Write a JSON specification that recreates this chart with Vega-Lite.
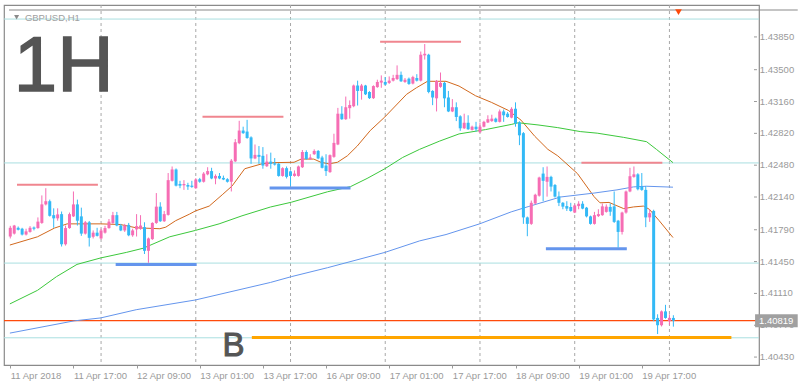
{
"$schema":"https://vega.github.io/schema/vega-lite/v6.json",
"width":755,"height":360,
"autosize":{"type":"none"},
"padding":{"left":4,"top":5,"right":44,"bottom":20},
"background":"white",
"config":{"view":{"stroke":"#8a8a8a","strokeWidth":1.2},
"axis":{"labelFont":"Liberation Sans","labelFontSize":9.5,"labelColor":"#9a9a9a","tickColor":"#9a9a9a","tickSize":3,"domain":false,"grid":false,"labelOverlap":false,"labelFlush":false}},
"datasets":{
"candles":[
{"i":0,"o":1.41718,"h":1.41832,"l":1.41697,"c":1.41811},
{"i":1,"o":1.41749,"h":1.41842,"l":1.41739,"c":1.41835},
{"i":2,"o":1.41811,"h":1.41825,"l":1.41783,"c":1.4179},
{"i":3,"o":1.41801,"h":1.41811,"l":1.41729,"c":1.41739},
{"i":4,"o":1.41739,"h":1.41801,"l":1.41729,"c":1.41773},
{"i":5,"o":1.41767,"h":1.41829,"l":1.41759,"c":1.41811},
{"i":6,"o":1.41814,"h":1.41825,"l":1.41783,"c":1.41801},
{"i":7,"o":1.41808,"h":1.41922,"l":1.41801,"c":1.41877},
{"i":8,"o":1.41863,"h":1.42157,"l":1.41853,"c":1.42061},
{"i":9,"o":1.42061,"h":1.42234,"l":1.4205,"c":1.42095},
{"i":10,"o":1.42095,"h":1.42112,"l":1.41931,"c":1.41939},
{"i":11,"o":1.41946,"h":1.42019,"l":1.41811,"c":1.41912},
{"i":12,"o":1.41912,"h":1.42019,"l":1.41887,"c":1.41954},
{"i":13,"o":1.41957,"h":1.41985,"l":1.41611,"c":1.41635},
{"i":14,"o":1.41635,"h":1.41835,"l":1.41621,"c":1.41808},
{"i":15,"o":1.41808,"h":1.41974,"l":1.41801,"c":1.41957},
{"i":16,"o":1.41933,"h":1.42199,"l":1.41926,"c":1.42061},
{"i":17,"o":1.42061,"h":1.42112,"l":1.41835,"c":1.41887},
{"i":18,"o":1.41933,"h":1.42026,"l":1.41725,"c":1.41749},
{"i":19,"o":1.41749,"h":1.41884,"l":1.41739,"c":1.4187},
{"i":20,"o":1.4187,"h":1.41884,"l":1.41611,"c":1.41704},
{"i":21,"o":1.41715,"h":1.41783,"l":1.41697,"c":1.41759},
{"i":22,"o":1.41759,"h":1.41811,"l":1.41718,"c":1.41725},
{"i":23,"o":1.41697,"h":1.41801,"l":1.41687,"c":1.41783},
{"i":24,"o":1.41759,"h":1.41832,"l":1.41749,"c":1.41808},
{"i":25,"o":1.41808,"h":1.41905,"l":1.41801,"c":1.41877},
{"i":26,"o":1.41863,"h":1.41981,"l":1.41853,"c":1.41946},
{"i":27,"o":1.41946,"h":1.41981,"l":1.41827,"c":1.41835},
{"i":28,"o":1.41835,"h":1.41853,"l":1.41775,"c":1.41783},
{"i":29,"o":1.41783,"h":1.41853,"l":1.41767,"c":1.41835},
{"i":30,"o":1.41842,"h":1.41863,"l":1.41721,"c":1.41731},
{"i":31,"o":1.41731,"h":1.41801,"l":1.41715,"c":1.41783},
{"i":32,"o":1.41794,"h":1.41957,"l":1.41718,"c":1.41829},
{"i":33,"o":1.41801,"h":1.41946,"l":1.4179,"c":1.41835},
{"i":34,"o":1.41818,"h":1.4187,"l":1.41531,"c":1.41565},
{"i":35,"o":1.41565,"h":1.41707,"l":1.41437,"c":1.41697},
{"i":36,"o":1.4169,"h":1.4187,"l":1.41682,"c":1.41863},
{"i":37,"o":1.41863,"h":1.42182,"l":1.41853,"c":1.42037},
{"i":38,"o":1.42037,"h":1.42084,"l":1.41874,"c":1.41881},
{"i":39,"o":1.41881,"h":1.41991,"l":1.41874,"c":1.41957},
{"i":40,"o":1.41949,"h":1.42396,"l":1.41941,"c":1.4232},
{"i":41,"o":1.42313,"h":1.42466,"l":1.42305,"c":1.42434},
{"i":42,"o":1.42434,"h":1.42445,"l":1.42253,"c":1.42261},
{"i":43,"o":1.42279,"h":1.42313,"l":1.42234,"c":1.42261},
{"i":44,"o":1.42265,"h":1.4232,"l":1.42216,"c":1.42279},
{"i":45,"o":1.42268,"h":1.42292,"l":1.42216,"c":1.42251},
{"i":46,"o":1.42261,"h":1.42313,"l":1.42238,"c":1.42248},
{"i":47,"o":1.42234,"h":1.42341,"l":1.42227,"c":1.42327},
{"i":48,"o":1.4233,"h":1.42344,"l":1.42292,"c":1.42303},
{"i":49,"o":1.42303,"h":1.42406,"l":1.42294,"c":1.4239},
{"i":50,"o":1.42382,"h":1.42458,"l":1.42372,"c":1.42417},
{"i":51,"o":1.42417,"h":1.42452,"l":1.4233,"c":1.42338},
{"i":52,"o":1.42338,"h":1.42382,"l":1.42276,"c":1.42365},
{"i":53,"o":1.42365,"h":1.42396,"l":1.4233,"c":1.42338},
{"i":54,"o":1.42344,"h":1.42369,"l":1.4232,"c":1.42327},
{"i":55,"o":1.4233,"h":1.42341,"l":1.42294,"c":1.42303},
{"i":56,"o":1.42303,"h":1.42545,"l":1.42199,"c":1.42528},
{"i":57,"o":1.42521,"h":1.42759,"l":1.42513,"c":1.42725},
{"i":58,"o":1.42715,"h":1.42954,"l":1.42704,"c":1.4285},
{"i":59,"o":1.4285,"h":1.42891,"l":1.42814,"c":1.42822},
{"i":60,"o":1.42839,"h":1.42964,"l":1.42762,"c":1.4277},
{"i":61,"o":1.42777,"h":1.42788,"l":1.42494,"c":1.42552},
{"i":62,"o":1.42552,"h":1.42701,"l":1.42544,"c":1.4259},
{"i":63,"o":1.4259,"h":1.42684,"l":1.42494,"c":1.42569},
{"i":64,"o":1.4258,"h":1.42673,"l":1.42442,"c":1.42476},
{"i":65,"o":1.42469,"h":1.42597,"l":1.4246,"c":1.42518},
{"i":66,"o":1.42518,"h":1.42614,"l":1.42442,"c":1.42494},
{"i":67,"o":1.425,"h":1.42556,"l":1.42476,"c":1.42486},
{"i":68,"o":1.42494,"h":1.42502,"l":1.42357,"c":1.42365},
{"i":69,"o":1.42365,"h":1.42458,"l":1.42357,"c":1.42448},
{"i":70,"o":1.42448,"h":1.42466,"l":1.42338,"c":1.42355},
{"i":71,"o":1.42414,"h":1.42424,"l":1.42258,"c":1.42365},
{"i":72,"o":1.42365,"h":1.42424,"l":1.42357,"c":1.4239},
{"i":73,"o":1.42365,"h":1.42476,"l":1.42357,"c":1.42466},
{"i":74,"o":1.42458,"h":1.42642,"l":1.4245,"c":1.42621},
{"i":75,"o":1.42621,"h":1.42639,"l":1.42538,"c":1.42545},
{"i":76,"o":1.42545,"h":1.42597,"l":1.42538,"c":1.42562},
{"i":77,"o":1.42597,"h":1.42649,"l":1.4259,"c":1.42632},
{"i":78,"o":1.42632,"h":1.42642,"l":1.42544,"c":1.42552},
{"i":79,"o":1.42562,"h":1.4258,"l":1.42445,"c":1.42452},
{"i":80,"o":1.42476,"h":1.42597,"l":1.42365,"c":1.42417},
{"i":81,"o":1.42406,"h":1.42595,"l":1.42398,"c":1.42587},
{"i":82,"o":1.42569,"h":1.42816,"l":1.42559,"c":1.42718},
{"i":83,"o":1.42701,"h":1.43092,"l":1.42694,"c":1.4303},
{"i":84,"o":1.4303,"h":1.4311,"l":1.42964,"c":1.42971},
{"i":85,"o":1.42971,"h":1.43213,"l":1.42964,"c":1.43099},
{"i":86,"o":1.43089,"h":1.43172,"l":1.42977,"c":1.43123},
{"i":87,"o":1.4311,"h":1.43341,"l":1.43099,"c":1.43331},
{"i":88,"o":1.43331,"h":1.43383,"l":1.43117,"c":1.43273},
{"i":89,"o":1.43273,"h":1.43348,"l":1.4318,"c":1.43331},
{"i":90,"o":1.43331,"h":1.43338,"l":1.43229,"c":1.43237},
{"i":91,"o":1.43262,"h":1.43271,"l":1.43187,"c":1.43196},
{"i":92,"o":1.43196,"h":1.43333,"l":1.43187,"c":1.43325},
{"i":93,"o":1.43314,"h":1.43393,"l":1.43307,"c":1.43369},
{"i":94,"o":1.43362,"h":1.43439,"l":1.43307,"c":1.43383},
{"i":95,"o":1.43369,"h":1.43421,"l":1.43333,"c":1.43341},
{"i":96,"o":1.43359,"h":1.43428,"l":1.43348,"c":1.43383},
{"i":97,"o":1.43383,"h":1.43445,"l":1.43374,"c":1.43411},
{"i":98,"o":1.434,"h":1.43546,"l":1.4339,"c":1.43445},
{"i":99,"o":1.43445,"h":1.4348,"l":1.43369,"c":1.43376},
{"i":100,"o":1.43369,"h":1.43411,"l":1.43359,"c":1.43393},
{"i":101,"o":1.43404,"h":1.43416,"l":1.43338,"c":1.43348},
{"i":102,"o":1.43352,"h":1.43435,"l":1.43343,"c":1.43421},
{"i":103,"o":1.43411,"h":1.43452,"l":1.43374,"c":1.43383},
{"i":104,"o":1.43383,"h":1.43694,"l":1.43374,"c":1.4366},
{"i":105,"o":1.43653,"h":1.43774,"l":1.43608,"c":1.4367},
{"i":106,"o":1.4366,"h":1.4367,"l":1.43248,"c":1.43262},
{"i":107,"o":1.43273,"h":1.43281,"l":1.43121,"c":1.43203},
{"i":108,"o":1.43194,"h":1.4339,"l":1.43054,"c":1.43379},
{"i":109,"o":1.43317,"h":1.4347,"l":1.43307,"c":1.43359},
{"i":110,"o":1.43359,"h":1.43369,"l":1.43099,"c":1.43194},
{"i":111,"o":1.43203,"h":1.43273,"l":1.43047,"c":1.43054},
{"i":112,"o":1.43054,"h":1.43186,"l":1.43047,"c":1.43099},
{"i":113,"o":1.43099,"h":1.43151,"l":1.42951,"c":1.42995},
{"i":114,"o":1.43002,"h":1.43013,"l":1.42847,"c":1.42874},
{"i":115,"o":1.42874,"h":1.4303,"l":1.42866,"c":1.42933},
{"i":116,"o":1.42933,"h":1.43013,"l":1.42857,"c":1.42864},
{"i":117,"o":1.42857,"h":1.42902,"l":1.4285,"c":1.42891},
{"i":118,"o":1.42891,"h":1.42943,"l":1.42839,"c":1.42864},
{"i":119,"o":1.42832,"h":1.42936,"l":1.42824,"c":1.42891},
{"i":120,"o":1.42891,"h":1.42954,"l":1.42884,"c":1.42943},
{"i":121,"o":1.42936,"h":1.43013,"l":1.4293,"c":1.42971},
{"i":122,"o":1.42951,"h":1.43019,"l":1.42943,"c":1.42977},
{"i":123,"o":1.42977,"h":1.42988,"l":1.42936,"c":1.42943},
{"i":124,"o":1.42943,"h":1.43075,"l":1.42936,"c":1.43054},
{"i":125,"o":1.43054,"h":1.43075,"l":1.42943,"c":1.43013},
{"i":126,"o":1.4303,"h":1.43047,"l":1.42988,"c":1.42995},
{"i":127,"o":1.42988,"h":1.43099,"l":1.42981,"c":1.43082},
{"i":128,"o":1.43082,"h":1.43151,"l":1.42891,"c":1.42926},
{"i":129,"o":1.42936,"h":1.42949,"l":1.42694,"c":1.42799},
{"i":130,"o":1.42822,"h":1.42834,"l":1.41853,"c":1.41922},
{"i":131,"o":1.41922,"h":1.41931,"l":1.41721,"c":1.41853},
{"i":132,"o":1.41853,"h":1.42102,"l":1.41842,"c":1.42078},
{"i":133,"o":1.42071,"h":1.42175,"l":1.42061,"c":1.42164},
{"i":134,"o":1.42154,"h":1.42357,"l":1.42144,"c":1.42348},
{"i":135,"o":1.4239,"h":1.42458,"l":1.42095,"c":1.42313},
{"i":136,"o":1.42303,"h":1.42466,"l":1.42144,"c":1.42355},
{"i":137,"o":1.42355,"h":1.42367,"l":1.42199,"c":1.42251},
{"i":138,"o":1.42268,"h":1.42279,"l":1.42134,"c":1.42144},
{"i":139,"o":1.42147,"h":1.42199,"l":1.42043,"c":1.42078},
{"i":140,"o":1.42078,"h":1.42086,"l":1.42009,"c":1.42037},
{"i":141,"o":1.42043,"h":1.42095,"l":1.41991,"c":1.42016},
{"i":142,"o":1.42033,"h":1.42078,"l":1.41983,"c":1.41991},
{"i":143,"o":1.41974,"h":1.42061,"l":1.41968,"c":1.4205},
{"i":144,"o":1.42043,"h":1.42095,"l":1.42009,"c":1.42068},
{"i":145,"o":1.42068,"h":1.42095,"l":1.42009,"c":1.42016},
{"i":146,"o":1.42026,"h":1.42034,"l":1.41922,"c":1.41933},
{"i":147,"o":1.41933,"h":1.41941,"l":1.41845,"c":1.41853},
{"i":148,"o":1.41853,"h":1.41981,"l":1.41845,"c":1.41946},
{"i":149,"o":1.41936,"h":1.42009,"l":1.41926,"c":1.41957},
{"i":150,"o":1.41946,"h":1.42071,"l":1.41939,"c":1.4204},
{"i":151,"o":1.41981,"h":1.42061,"l":1.41973,"c":1.42037},
{"i":152,"o":1.42034,"h":1.42071,"l":1.41939,"c":1.41983},
{"i":153,"o":1.4204,"h":1.42199,"l":1.41863,"c":1.41874},
{"i":154,"o":1.41887,"h":1.41895,"l":1.416,"c":1.41767},
{"i":155,"o":1.41767,"h":1.41983,"l":1.41739,"c":1.41974},
{"i":156,"o":1.41974,"h":1.42209,"l":1.41962,"c":1.42199},
{"i":157,"o":1.42199,"h":1.42452,"l":1.42191,"c":1.42362},
{"i":158,"o":1.42355,"h":1.42466,"l":1.42346,"c":1.42382},
{"i":159,"o":1.42382,"h":1.42394,"l":1.42211,"c":1.42223},
{"i":160,"o":1.42251,"h":1.42396,"l":1.42206,"c":1.42216},
{"i":161,"o":1.42216,"h":1.42258,"l":1.41818,"c":1.41922},
{"i":162,"o":1.41922,"h":1.42009,"l":1.41874,"c":1.41968},
{"i":163,"o":1.41991,"h":1.42004,"l":1.40814,"c":1.40832},
{"i":164,"o":1.40848,"h":1.40887,"l":1.40676,"c":1.4077},
{"i":165,"o":1.4077,"h":1.40928,"l":1.40757,"c":1.40918},
{"i":166,"o":1.40918,"h":1.40988,"l":1.4084,"c":1.40848},
{"i":167,"o":1.40814,"h":1.40887,"l":1.40773,"c":1.40848},
{"i":168,"o":1.40848,"h":1.40877,"l":1.40755,"c":1.40819}
],
"ma":[
{"s":"o","i":-0.1,"p":1.41627},{"s":"o","i":6.9,"p":1.41715},{"s":"o","i":11.2,"p":1.41808},{"s":"o","i":14.4,"p":1.41853},{"s":"o","i":22.9,"p":1.41853},{"s":"o","i":27.9,"p":1.41846},{"s":"o","i":31.9,"p":1.41811},{"s":"o","i":37.9,"p":1.41801},{"s":"o","i":39.4,"p":1.41818},{"s":"o","i":41.9,"p":1.41887},{"s":"o","i":45.4,"p":1.41957},{"s":"o","i":46.9,"p":1.41991},{"s":"o","i":50.4,"p":1.42043},{"s":"o","i":53.7,"p":1.42164},{"s":"o","i":56.2,"p":1.42258},{"s":"o","i":59.4,"p":1.42442},{"s":"o","i":63.7,"p":1.42494},{"s":"o","i":66.9,"p":1.42507},{"s":"o","i":71.9,"p":1.42511},{"s":"o","i":73.7,"p":1.42545},{"s":"o","i":76.9,"p":1.42545},{"s":"o","i":78.7,"p":1.42511},{"s":"o","i":80.7,"p":1.42494},{"s":"o","i":82.9,"p":1.42511},{"s":"o","i":85.4,"p":1.4258},{"s":"o","i":87.9,"p":1.42684},{"s":"o","i":91.2,"p":1.4285},{"s":"o","i":94.9,"p":1.42995},{"s":"o","i":100.4,"p":1.43237},{"s":"o","i":102.9,"p":1.43307},{"s":"o","i":105.7,"p":1.43376},{"s":"o","i":110.4,"p":1.43376},{"s":"o","i":113.7,"p":1.43325},{"s":"o","i":117.9,"p":1.43221},{"s":"o","i":121.9,"p":1.43151},{"s":"o","i":126.2,"p":1.43065},{"s":"o","i":129.4,"p":1.42961},{"s":"o","i":132.9,"p":1.42788},{"s":"o","i":136.2,"p":1.42649},{"s":"o","i":138.7,"p":1.4258},{"s":"o","i":143.7,"p":1.4239},{"s":"o","i":147.9,"p":1.42144},{"s":"o","i":149.4,"p":1.42078},{"s":"o","i":151.7,"p":1.42082},{"s":"o","i":155.4,"p":1.42016},{"s":"o","i":157.9,"p":1.42034},{"s":"o","i":160.4,"p":1.42043},{"s":"o","i":161.9,"p":1.42009},{"s":"o","i":164.4,"p":1.41887},{"s":"o","i":167.9,"p":1.41707},
{"s":"g","i":-0.1,"p":1.40998},{"s":"g","i":6.9,"p":1.41143},{"s":"g","i":11.7,"p":1.41289},{"s":"g","i":16.9,"p":1.4142},{"s":"g","i":22.9,"p":1.41489},{"s":"g","i":29.4,"p":1.41548},{"s":"g","i":33.7,"p":1.41593},{"s":"g","i":40.4,"p":1.41715},{"s":"g","i":46.9,"p":1.41783},{"s":"g","i":52.9,"p":1.41853},{"s":"g","i":58.7,"p":1.41939},{"s":"g","i":65.9,"p":1.42033},{"s":"g","i":71.2,"p":1.42084},{"s":"g","i":80.4,"p":1.42196},{"s":"g","i":86.2,"p":1.42251},{"s":"g","i":90.4,"p":1.42338},{"s":"g","i":94.9,"p":1.42442},{"s":"g","i":99.4,"p":1.42562},{"s":"g","i":103.7,"p":1.42649},{"s":"g","i":108.7,"p":1.42736},{"s":"g","i":113.7,"p":1.42814},{"s":"g","i":120.4,"p":1.4286},{"s":"g","i":126.9,"p":1.42915},{"s":"g","i":128.7,"p":1.42933},{"s":"g","i":133.7,"p":1.4291},{"s":"g","i":138.7,"p":1.42881},{"s":"g","i":144.4,"p":1.42839},{"s":"g","i":148.7,"p":1.42822},{"s":"g","i":155.4,"p":1.42777},{"s":"g","i":161.2,"p":1.42731},{"s":"g","i":163.7,"p":1.42649},{"s":"g","i":167.9,"p":1.42507},
{"s":"b","i":-0.1,"p":1.40686},{"s":"b","i":16.2,"p":1.40817},{"s":"b","i":22.9,"p":1.40848},{"s":"b","i":31.9,"p":1.40936},{"s":"b","i":46.9,"p":1.4104},{"s":"b","i":65.9,"p":1.41227},{"s":"b","i":71.2,"p":1.41289},{"s":"b","i":80.4,"p":1.41385},{"s":"b","i":94.9,"p":1.41548},{"s":"b","i":103.7,"p":1.41671},{"s":"b","i":110.4,"p":1.41739},{"s":"b","i":118.9,"p":1.41853},{"s":"b","i":126.9,"p":1.41981},{"s":"b","i":131.2,"p":1.42037},{"s":"b","i":139.4,"p":1.4214},{"s":"b","i":147.9,"p":1.42182},{"s":"b","i":153.7,"p":1.42216},{"s":"b","i":157.9,"p":1.42248},{"s":"b","i":161.2,"p":1.42255},{"s":"b","i":167.9,"p":1.42245}
],
"grid":[{"i":23},{"i":47},{"i":71},{"i":95},{"i":119},{"i":143},{"i":167}],
"hlines":[{"p":1.44041},{"p":1.42504},{"p":1.41434},{"p":1.40636}],
"res":[{"i":1.7,"i2":22.2,"p":1.42271},{"i":48.7,"i2":69.2,"p":1.42998},{"i":93.7,"i2":114.2,"p":1.43798},{"i":144.7,"i2":165.2,"p":1.42507}],
"sup":[{"i":26.7,"i2":47.2,"p":1.4142},{"i":65.7,"i2":86.2,"p":1.42237},{"i":135.7,"i2":156.2,"p":1.41586}],
"bline":[{"i":61.2,"i2":182.7,"p":1.40638}],
"last":[{"p":1.40819,"label":"1.40819"}],
"yt":[{"p":1.4385,"t":"1.43850"},{"p":1.435,"t":"1.43500"},{"p":1.4316,"t":"1.43160"},{"p":1.4282,"t":"1.42820"},{"p":1.4248,"t":"1.42480"},{"p":1.4214,"t":"1.42140"},{"p":1.4179,"t":"1.41790"},{"p":1.4145,"t":"1.41450"},{"p":1.4111,"t":"1.41110"},{"p":1.4077,"t":"1.40770"},{"p":1.4043,"t":"1.40430"}],
"one":[{}]
},
"layer":[
{"data":{"name":"grid"},"mark":{"type":"rule","color":"#a8a8a8","strokeWidth":1,"strokeDash":[3,3]},
 "encoding":{"x":{"field":"i","type":"quantitative","scale":{"domain":[-0.325,188.425],"nice":false,"zero":false},
  "axis":{"title":null,"values":[0,16,32,48,64,80,96,112,128,144,160],"labelAlign":"left","labelDx":1,"labelBaseline":"top","labelPadding":2,"labelOverlap":false,
  "labelExpr":"['11 Apr 2018','11 Apr 17:00','12 Apr 09:00','13 Apr 01:00','13 Apr 17:00','16 Apr 09:00','17 Apr 01:00','17 Apr 17:00','18 Apr 09:00','19 Apr 01:00','19 Apr 17:00'][round(datum.value/16)]"}}}},
{"data":{"name":"hlines"},"mark":{"type":"rule","color":"#a9dfe0","strokeWidth":1},
 "encoding":{"y":{"field":"p","type":"quantitative","scale":{"domain":[1.403987,1.441377],"nice":false,"zero":false},"axis":null}}},
{"data":{"name":"yt"},"mark":{"type":"rule","color":"#9a9a9a","strokeWidth":1,"clip":false},
 "encoding":{"x":{"datum":188.425,"type":"quantitative"},"x2":{"datum":189.175},"y":{"field":"p","type":"quantitative","axis":null}}},
{"data":{"name":"yt"},"mark":{"type":"text","color":"#9a9a9a","font":"Liberation Sans","fontSize":9.5,"align":"left","baseline":"middle","clip":false},
 "encoding":{"x":{"datum":189.9,"type":"quantitative"},"y":{"field":"p","type":"quantitative","axis":null},"text":{"field":"t"}}},
{"data":{"name":"last"},"mark":{"type":"rule","color":"#ff4a0a","strokeWidth":1.3},
 "encoding":{"y":{"field":"p","type":"quantitative","axis":null}}},
{"data":{"name":"ma"},"mark":{"type":"line","strokeWidth":1},
 "encoding":{"x":{"field":"i","type":"quantitative"},"y":{"field":"p","type":"quantitative","axis":null},
  "color":{"field":"s","type":"nominal","scale":{"domain":["o","g","b"],"range":["#d2691e","#3cc83c","#6495ed"]},"legend":null}}},
{"data":{"name":"res"},"mark":{"type":"rule","color":"#f0868f","strokeWidth":2},
 "encoding":{"x":{"field":"i","type":"quantitative"},"x2":{"field":"i2"},"y":{"field":"p","type":"quantitative","axis":null}}},
{"data":{"name":"sup"},"mark":{"type":"rule","color":"#6495ed","strokeWidth":3},
 "encoding":{"x":{"field":"i","type":"quantitative"},"x2":{"field":"i2"},"y":{"field":"p","type":"quantitative","axis":null}}},
{"data":{"name":"bline"},"mark":{"type":"rule","color":"#ffa500","strokeWidth":3},
 "encoding":{"x":{"field":"i","type":"quantitative"},"x2":{"field":"i2"},"y":{"field":"p","type":"quantitative","axis":null}}},
{"data":{"name":"candles"},"mark":{"type":"rule","strokeWidth":1},
 "encoding":{"x":{"field":"i","type":"quantitative"},"y":{"field":"l","type":"quantitative","axis":null},"y2":{"field":"h"},
  "color":{"condition":{"test":"datum.c >= datum.o","value":"#f66db4"},"value":"#33b9f6"}}},
{"data":{"name":"candles"},"mark":{"type":"bar","width":3},
 "encoding":{"x":{"field":"i","type":"quantitative"},"y":{"field":"o","type":"quantitative","axis":null},"y2":{"field":"c"},
  "color":{"condition":{"test":"datum.c >= datum.o","value":"#f66db4"},"value":"#33b9f6"}}},
{"data":{"name":"last"},"mark":{"type":"bar","color":"#a0a0a0","height":13,"clip":false},
 "encoding":{"x":{"datum":188.7,"type":"quantitative"},"x2":{"datum":199.5},"y":{"field":"p","type":"quantitative","axis":null}}},
{"data":{"name":"last"},"mark":{"type":"text","color":"white","font":"Liberation Sans","fontSize":9.5,"align":"left","baseline":"middle","clip":false},
 "encoding":{"x":{"datum":189.7,"type":"quantitative"},"y":{"field":"p","type":"quantitative","axis":null},"text":{"field":"label"}}},
{"data":{"name":"one"},"mark":{"type":"rule","color":"#8a8a8a","strokeWidth":1.2,"clip":false},
 "encoding":{"x":{"datum":-0.325,"type":"quantitative"},"x2":{"datum":199.5},"y":{"datum":1.441377,"type":"quantitative","axis":null}}},
{"data":{"name":"one"},"mark":{"type":"text","text":"1H","font":"Liberation Sans","fontSize":78,"color":"#555555","align":"left","baseline":"alphabetic","stroke":"#555555","strokeWidth":1.5},
 "encoding":{"x":{"datum":0.9,"type":"quantitative"},"y":{"datum":1.4327,"type":"quantitative","axis":null}}},
{"data":{"name":"one"},"mark":{"type":"text","text":"B","font":"Liberation Sans","fontSize":33,"color":"#555555","align":"left","baseline":"alphabetic","stroke":"#555555","strokeWidth":1},
 "encoding":{"x":{"datum":53.75,"type":"quantitative"},"y":{"datum":1.4044,"type":"quantitative","axis":null}}},
{"data":{"name":"one"},"mark":{"type":"text","text":"GBPUSD,H1","font":"Liberation Sans","fontSize":9.5,"color":"#a0a0a0","align":"left","baseline":"alphabetic"},
 "encoding":{"x":{"datum":3.7,"type":"quantitative"},"y":{"datum":1.44023,"type":"quantitative","axis":null}}},
{"data":{"name":"one"},"mark":{"type":"point","shape":"triangle-down","filled":true,"size":25,"color":"#8a8a8a","opacity":1},
 "encoding":{"x":{"datum":1.6,"type":"quantitative"},"y":{"datum":1.4406,"type":"quantitative","axis":null}}},
{"data":{"name":"one"},"mark":{"type":"point","shape":"triangle-down","filled":true,"size":45,"color":"#ff4a0a","opacity":1,"clip":false},
 "encoding":{"x":{"datum":169.3,"type":"quantitative"},"y":{"datum":1.44115,"type":"quantitative","axis":null}}}
]
}
